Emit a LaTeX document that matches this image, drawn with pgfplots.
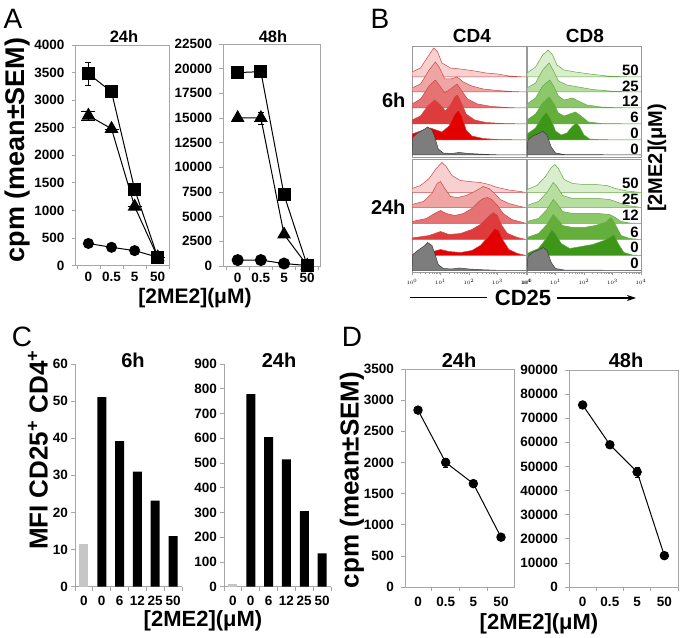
\documentclass[border=0pt]{standalone}
\usepackage{fontspec}
\setmainfont{Liberation Sans}
\usepackage{pgfplots}
\pgfplotsset{compat=1.18}
\usetikzlibrary{arrows.meta}
\definecolor{r50}{RGB}{248,208,208}
\definecolor{r25}{RGB}{240,165,165}
\definecolor{r12}{RGB}{230,115,115}
\definecolor{r6}{RGB}{222,60,60}
\definecolor{r0}{RGB}{226,0,0}
\definecolor{rl}{RGB}{205,70,70}
\definecolor{g50}{RGB}{218,238,205}
\definecolor{g25}{RGB}{183,222,160}
\definecolor{g12}{RGB}{140,200,105}
\definecolor{g6}{RGB}{100,175,60}
\definecolor{g0}{RGB}{62,150,25}
\definecolor{gl}{RGB}{95,170,65}
\definecolor{gy}{RGB}{125,125,125}
\definecolor{gyl}{RGB}{60,60,60}
\newcommand{\tkf}{\bfseries\fontsize{13.5}{14}\selectfont}
\pgfplotsset{
 pbase/.style={scale only axis, anchor=south west, clip=false,
   axis line style={gray!70, line width=0.7pt},
   tick style={gray!70, line width=0.7pt}, tick align=outside, tick pos=left,
   major tick length=4pt, scaled y ticks=false,
   yticklabel={\tkf\pgfmathprintnumber[fixed,1000 sep={},assume math mode=true]{\tick}},
   yticklabel style={inner sep=1.5pt},
   extra x tick style={major tick length=0pt}},
 pA/.style={pbase, xtick={-0.5,0.5,1.5,2.5,3.5}, xticklabels={},
   extra x ticks={0,1,2,3}, extra x tick labels={\tkf 0,\tkf 0.5,\tkf 5,\tkf 50},
   yticklabel style={xshift=-5.5pt}},
 pC/.style={pbase, axis x line*=bottom, axis y line*=left, xmin=-0.5, xmax=5.5,
   xtick={-0.5,0.5,1.5,2.5,3.5,4.5,5.5}, xticklabels={},
   extra x ticks={0,1,2,3,4,5}, extra x tick labels={\tkf 0,\tkf 0,\tkf 6,\tkf 12,\tkf 25,\tkf 50},
   yticklabel style={xshift=-1.5pt}, xticklabel style={yshift=-6pt}},
 pB/.style={scale only axis, anchor=south west, width=114pt, xmin=0, xmax=4, ymin=0,
   axis line style={gray!80, line width=0.8pt}, ytick=\empty},
 pBbot/.style={pB, xtick={0,1,2,3,4}, xticklabels={$10^{0}$,$10^{1}$,$10^{2}$,$10^{3}$,$10^{4}$},
   minor xtick={0.301,0.477,0.602,0.699,0.778,0.845,0.903,0.954,1.301,1.477,1.602,1.699,1.778,1.845,1.903,1.954,2.301,2.477,2.602,2.699,2.778,2.845,2.903,2.954,3.301,3.477,3.602,3.699,3.778,3.845,3.903,3.954},
   tick align=outside, xtick pos=left, major tick length=3pt, minor tick length=1.6pt,
   tick style={gray!80, line width=0.5pt},
   tick label style={font=\fontsize{5}{5}\selectfont}},
 pBtop/.style={pB, xtick=\empty},
 rc/.style={draw=rl, line width=0.5pt},
 gc/.style={draw=gl, line width=0.5pt},
 gyc/.style={draw=gyl, fill=gy, line width=0.5pt},
 lineA/.style={black, line width=1pt},
}
\begin{document}
\begin{tikzpicture}
\path[use as bounding box] (0,0) rectangle (681pt,638pt);
% ---------------- Panel A ----------------
\begin{axis}[pA, xticklabel style={yshift=-3.5pt}, at={(75.7pt,372.5pt)}, width=93.6pt, height=220.5pt,
  xmin=-0.55, xmax=3.5, ymin=0, ymax=4000, ytick={0,500,...,4000}]
\addplot[lineA, mark=*, mark size=5pt] coordinates {(0,400) (1,330) (2,270) (3,150)};
\addplot[lineA, mark=triangle*, mark size=7pt, error bars/.cd, y dir=both, y explicit]
  coordinates {(0,2720) +- (0,80) (1,2480) +- (0,0) (2,1070) +- (0,0) (3,150) +- (0,0)};
\addplot[lineA, mark=square*, mark size=6pt, error bars/.cd, y dir=both, y explicit,
  error bar style={line width=0.8pt}, error mark options={rotate=90, mark size=3pt, line width=0.8pt}]
  coordinates {(0,3480) +- (0,210) (1,3150) +- (0,0) (2,1380) +- (0,0) (3,150) +- (0,0)};
\end{axis}
\begin{axis}[pA, xticklabel style={yshift=-3.5pt}, at={(223.3pt,372pt)}, width=96.7pt, height=222pt,
  xmin=-0.62, xmax=3.55, ymin=0, ymax=22500, ytick={0,2500,...,22500}]
\addplot[lineA, mark=*, mark size=5.5pt] coordinates {(0,600) (1,600) (2,250) (3,50)};
\addplot[lineA, mark=triangle*, mark size=7pt, error bars/.cd, y dir=both, y explicit,
  error mark options={rotate=90, mark size=3pt}]
  coordinates {(0,15000) +- (0,0) (1,15000) +- (0,600) (2,3200) +- (0,0) (3,50) +- (0,0)};
\addplot[lineA, mark=square*, mark size=6pt, error bars/.cd, y dir=both, y explicit,
  error mark options={rotate=90, mark size=3pt}]
  coordinates {(0,19600) +- (0,500) (1,19700) +- (0,0) (2,7200) +- (0,0) (3,50) +- (0,0)};
\end{axis}
\node[font=\fontsize{28}{28}\selectfont] at (13pt,619pt) {A};
\node[font=\bfseries\fontsize{16.5}{17}\selectfont] at (124pt,601pt) {24h};
\node[font=\bfseries\fontsize{16.5}{17}\selectfont] at (273pt,601pt) {48h};
\node[font=\bfseries\fontsize{27}{27}\selectfont, rotate=90] at (17.5pt,488pt) {cpm (mean±SEM)};
\node[font=\bfseries\fontsize{21}{21}\selectfont] at (195pt,340pt) {[2ME2](μM)};
% ---------------- Panel B ----------------
% CD4 6h
\begin{axis}[pBtop, at={(412pt,481pt)}, height=111pt, ymax=111]
\addplot[rc, fill=r50] coordinates {(0,80) (0,85) (0.3,89) (0.55,100) (0.76,109) (0.9,105) (1.05,94) (1.35,89) (1.7,88) (2.2,86) (2.6,84) (3.0,83) (3.4,81) (3.8,80.3) (4,80)} -- cycle;
\addplot[rc, fill=r25] coordinates {(0,65) (0,69) (0.3,73) (0.6,87) (0.82,95) (0.95,90) (1.15,78) (1.35,78) (1.58,80) (1.8,75) (2.1,71) (2.5,68) (3.0,66.5) (3.5,65.5) (4,65)} -- cycle;
\addplot[rc, fill=r12] coordinates {(0,49) (0,53) (0.3,58) (0.6,71) (0.82,77) (0.98,71) (1.15,64) (1.35,68) (1.58,73) (1.75,66) (1.95,58) (2.3,53) (2.8,50.5) (3.5,49.3) (4,49)} -- cycle;
\addplot[rc, fill=r6] coordinates {(0,33) (0,37) (0.3,41) (0.55,51) (0.8,57) (1.0,52) (1.17,46) (1.35,52) (1.5,60) (1.6,62) (1.72,55) (1.9,43) (2.2,37) (2.6,34.5) (3.2,33.5) (4,33)} -- cycle;
\addplot[rc, fill=r0] coordinates {(0,17) (0,23) (0.3,26) (0.65,29) (0.85,27) (1.05,25) (1.3,31) (1.5,43) (1.63,47) (1.75,41) (1.9,27) (2.1,21) (2.5,18.5) (3,17.5) (4,17)} -- cycle;
\addplot[gyc] coordinates {(0,2) (0.03,20) (0.2,24) (0.45,28) (0.55,30) (0.7,27) (0.8,20) (0.92,8) (1.1,4) (1.4,3.5) (1.65,4.5) (2.0,3.5) (2.5,2.7) (3,2.2) (4,2)} -- cycle;
\end{axis}
% CD4 24h
\begin{axis}[pBbot, at={(412pt,365.5pt)}, height=113.5pt, ymax=113.5]
\addplot[rc, fill=r50] coordinates {(0,80) (0,84) (0.3,87) (0.6,94) (0.85,104) (1.05,110) (1.2,106) (1.4,97) (1.7,92) (2.0,91) (2.4,90) (2.7,88) (3.0,85) (3.4,82.5) (3.8,81) (4,80)} -- cycle;
\addplot[rc, fill=r25] coordinates {(0,65) (0,68) (0.4,71) (0.7,79) (0.88,89) (1.0,91) (1.15,84) (1.35,76) (1.6,75) (1.9,77) (2.2,81) (2.5,86) (2.7,84) (2.9,79) (3.1,73) (3.4,69) (3.8,66) (4,65)} -- cycle;
\addplot[rc, fill=r12] coordinates {(0,49) (0,51) (0.5,54) (0.85,60) (1.0,62) (1.2,59) (1.5,57) (1.8,59) (2.1,64) (2.35,71) (2.5,74) (2.65,75) (2.8,73) (3.0,67) (3.2,59) (3.5,53) (3.9,50) (4,49)} -- cycle;
\addplot[rc, fill=r6] coordinates {(0,33) (0,34.5) (0.6,37) (1.0,41) (1.3,38) (1.7,39) (2.1,43) (2.4,48) (2.65,55) (2.85,60) (3.0,57) (3.15,47) (3.35,39) (3.7,35) (4,33)} -- cycle;
\addplot[rc, fill=r0] coordinates {(0,17) (0,18) (0.6,20) (1.0,23) (1.3,21) (1.7,20) (2.1,22) (2.4,27) (2.65,35) (2.9,44) (3.05,42) (3.2,32) (3.4,23) (3.7,19) (4,17)} -- cycle;
\addplot[gyc] coordinates {(0,2) (0.03,18) (0.2,22) (0.45,27) (0.55,30) (0.7,27) (0.8,19) (0.92,8) (1.1,4) (1.4,3.5) (1.65,4.5) (2.0,3.5) (2.5,2.7) (3,2.2) (4,2)} -- cycle;
\end{axis}
% CD8 6h
\begin{axis}[pBtop, at={(527pt,481pt)}, height=111pt, ymax=111]
\addplot[gc, fill=g50] coordinates {(0,80) (0,84) (0.3,90) (0.55,102) (0.74,107) (0.9,102) (1.05,92) (1.3,87) (1.7,85) (2.2,83) (2.8,81) (3.4,80.3) (4,80)} -- cycle;
\addplot[gc, fill=g25] coordinates {(0,65) (0,69) (0.3,74) (0.55,87) (0.78,94) (0.95,85) (1.1,76) (1.4,72) (1.8,70) (2.3,67.5) (2.9,66) (3.5,65.3) (4,65)} -- cycle;
\addplot[gc, fill=g12] coordinates {(0,49) (0,53) (0.3,59) (0.55,71) (0.8,77) (0.95,70) (1.1,61) (1.3,57) (1.6,59) (1.8,56) (2.1,52) (2.6,50) (3.2,49.3) (4,49)} -- cycle;
\addplot[gc, fill=g6] coordinates {(0,33) (0,37) (0.3,43) (0.55,54) (0.78,60) (0.95,53) (1.1,44) (1.3,41) (1.5,43) (1.7,45) (1.9,41) (2.15,35) (2.6,33.5) (4,33)} -- cycle;
\addplot[gc, fill=g0] coordinates {(0,17) (0,23) (0.3,29) (0.5,39) (0.68,45) (0.85,37) (1.0,26) (1.2,22) (1.4,24) (1.6,31) (1.74,34) (1.85,30) (2.0,22) (2.2,18) (2.6,17.3) (4,17)} -- cycle;
\addplot[gyc] coordinates {(0,2) (0.03,17) (0.2,21) (0.45,24) (0.55,26) (0.7,22) (0.85,10) (1.0,4) (1.3,2.5) (4,2)} -- cycle;
\end{axis}
% CD8 24h
\begin{axis}[pBbot, at={(527pt,365.5pt)}, height=113.5pt, ymax=113.5]
\addplot[gc, fill=g50] coordinates {(0,80) (0,83) (0.35,87) (0.65,96) (0.85,105) (0.98,108) (1.1,104) (1.3,93) (1.6,89) (2.0,88) (2.4,88) (2.8,87) (3.1,84) (3.5,81.5) (4,80)} -- cycle;
\addplot[gc, fill=g25] coordinates {(0,65) (0,67) (0.4,71) (0.7,80) (0.92,90) (1.05,86) (1.25,77) (1.6,74) (2.0,74) (2.5,74) (2.9,73) (3.2,70) (3.5,67) (3.9,65.5) (4,65)} -- cycle;
\addplot[gc, fill=g12] coordinates {(0,49) (0,51) (0.4,54) (0.7,63) (0.92,73) (1.05,69) (1.25,61) (1.6,59) (2.0,59) (2.5,59) (2.9,58) (3.1,55) (3.3,51) (3.6,49.5) (4,49)} -- cycle;
\addplot[gc, fill=g6] coordinates {(0,33) (0,35) (0.4,39) (0.7,48) (0.92,58) (1.05,54) (1.25,47) (1.6,45) (2.0,45) (2.4,47) (2.75,50) (2.95,55) (3.1,48) (3.3,37) (3.6,34) (4,33)} -- cycle;
\addplot[gc, fill=g0] coordinates {(0,17) (0,19) (0.4,24) (0.65,33) (0.86,43) (1.0,39) (1.2,29) (1.5,24) (1.9,26) (2.3,28) (2.7,32) (2.9,35) (3.05,38) (3.2,29) (3.4,20) (3.7,17.5) (4,17)} -- cycle;
\addplot[gyc] coordinates {(0,2) (0.03,16) (0.2,20) (0.45,23) (0.57,25) (0.7,22) (0.85,10) (1.0,4) (1.3,2.5) (4,2)} -- cycle;
\end{axis}
\node[font=\fontsize{28}{28}\selectfont] at (380pt,619pt) {B};
\node[font=\bfseries\fontsize{19}{19}\selectfont] at (472pt,602pt) {CD4};
\node[font=\bfseries\fontsize{19}{19}\selectfont] at (585pt,602pt) {CD8};
\node[font=\bfseries\fontsize{20}{20}\selectfont, anchor=east] at (409pt,538pt) {6h};
\node[font=\bfseries\fontsize{20}{20}\selectfont, anchor=east] at (409pt,431pt) {24h};
\foreach \t/\yy in {50/568,25/552,12/536.5,6/521,0/505,0/489,50/455,25/439,12/423,6/406,0/391,0/375}
  \node[font=\bfseries\fontsize{15}{15}\selectfont, anchor=east, inner sep=0pt] at (639pt,\yy pt) {\t};
\node[font=\bfseries\fontsize{20}{20}\selectfont, rotate=90] at (657pt,480pt) {[2ME2](μM)};
\node[font=\bfseries\fontsize{22}{22}\selectfont] at (523pt,340pt) {CD25};
\draw[line width=1.1pt] (410pt,340.3pt) -- (487pt,340.3pt);
\draw[line width=1.1pt, -{Stealth[length=9pt,width=6pt]}] (557pt,340pt) -- (636pt,340pt);
% ---------------- Panel C ----------------
\begin{axis}[pC, at={(75pt,51.3pt)}, width=107pt, height=222.7pt, ymin=0, ymax=60, ytick={0,10,...,60}]
\addplot[ybar, bar width=9pt, fill=gray!45, draw=none] coordinates {(0,11.4)};
\addplot[ybar, bar width=9pt, fill=black, draw=none] coordinates {(1,51.1) (2,39.2) (3,31) (4,23.2) (5,13.6)};
\end{axis}
\begin{axis}[pC, at={(224pt,51.3pt)}, width=107pt, height=222.7pt, ymin=0, ymax=900, ytick={0,100,...,900}]
\addplot[ybar, bar width=9pt, fill=gray!45, draw=none] coordinates {(0,10)};
\addplot[ybar, bar width=9pt, fill=black, draw=none] coordinates {(1,778) (2,605) (3,515) (4,305) (5,135)};
\end{axis}
\node[font=\fontsize{28}{28}\selectfont] at (22pt,301pt) {C};
\node[font=\bfseries\fontsize{20}{20}\selectfont] at (133pt,278pt) {6h};
\node[font=\bfseries\fontsize{20}{20}\selectfont] at (279pt,278pt) {24h};
\node[font=\bfseries\fontsize{26}{26}\selectfont, rotate=90] at (38pt,188pt) {MFI CD25\textsuperscript{+} CD4\textsuperscript{+}};
\node[font=\bfseries\fontsize{22}{22}\selectfont] at (203pt,17pt) {[2ME2](μM)};
% ---------------- Panel D ----------------
\begin{axis}[pA, xticklabel style={yshift=-6.5pt}, at={(405pt,51pt)}, width=109pt, height=218pt,
  xmin=-0.47, xmax=3.47, ymin=0, ymax=3500, ytick={0,500,...,3500}]
\addplot[lineA, mark=*, mark size=4.2pt, error bars/.cd, y dir=both, y explicit,
  error mark options={rotate=90, mark size=2.5pt}]
  coordinates {(0,2840) +- (0,0) (1,2000) +- (0,70) (2,1660) +- (0,0) (3,800) +- (0,0)};
\end{axis}
\begin{axis}[pA, xticklabel style={yshift=-6.5pt}, at={(569pt,51pt)}, width=109pt, height=217pt,
  xmin=-0.5, xmax=3.5, ymin=0, ymax=90000, ytick={0,10000,...,90000}]
\addplot[lineA, mark=*, mark size=4.2pt, error bars/.cd, y dir=both, y explicit,
  error mark options={rotate=90, mark size=2.5pt}]
  coordinates {(0,75500) +- (0,0) (1,59000) +- (0,0) (2,47700) +- (0,2000) (3,13000) +- (0,0)};
\end{axis}
\node[font=\fontsize{28}{28}\selectfont] at (352pt,301pt) {D};
\node[font=\bfseries\fontsize{20}{20}\selectfont] at (459pt,278pt) {24h};
\node[font=\bfseries\fontsize{20}{20}\selectfont] at (626pt,278pt) {48h};
\node[font=\bfseries\fontsize{26}{26}\selectfont, rotate=90] at (352pt,158pt) {cpm (mean±SEM)};
\node[font=\bfseries\fontsize{22}{22}\selectfont] at (539pt,14pt) {[2ME2](μM)};
\end{tikzpicture}
\end{document}
